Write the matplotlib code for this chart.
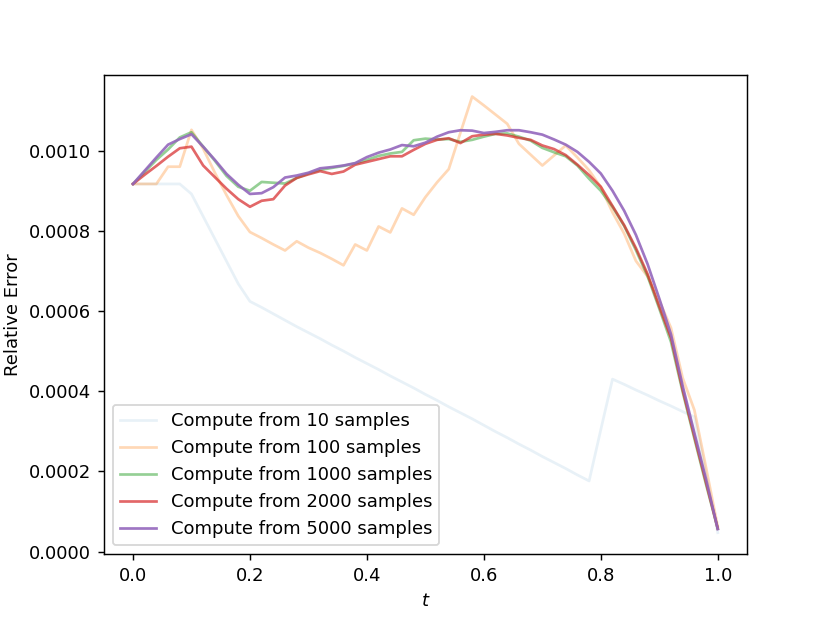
from matplotlib import pyplot as plt
import numpy as np

# time grid and relative errors (in units of 1e-4)
t = np.linspace(0, 1, 51)

err_10 = [9.17, 9.17, 9.17, 9.17, 9.17, 8.92, 8.36, 7.80, 7.24, 6.68,
          6.24, 6.09, 5.93, 5.77, 5.61, 5.46, 5.31, 5.15, 5.00, 4.84,
          4.69, 4.54, 4.38, 4.23, 4.08, 3.92, 3.77, 3.61, 3.46, 3.31,
          3.15, 2.99, 2.84, 2.68, 2.53, 2.37, 2.22, 2.07, 1.91, 1.76,
          3.04, 4.30, 4.17, 4.03, 3.90, 3.76, 3.63, 3.49, 3.36, 1.92,
          0.47]
err_100 = [9.17, 9.17, 9.17, 9.60, 9.60, 10.52, 10.05, 9.45, 8.89, 8.37,
           7.97, 7.82, 7.66, 7.51, 7.74, 7.58, 7.45, 7.30, 7.14, 7.66,
           7.51, 8.11, 7.96, 8.56, 8.40, 8.84, 9.21, 9.54, 10.45, 11.35,
           11.13, 10.90, 10.67, 10.17, 9.90, 9.63, 9.88, 10.13, 9.83, 9.51,
           9.09, 8.46, 7.93, 7.25, 6.86, 6.26, 5.58, 4.33, 3.53, 2.09,
           0.62]
err_1000 = [9.17, 9.47, 9.77, 10.03, 10.33, 10.46, 10.10, 9.75, 9.37, 9.10,
            9.00, 9.22, 9.20, 9.18, 9.32, 9.43, 9.52, 9.57, 9.62, 9.68,
            9.77, 9.87, 9.93, 9.97, 10.26, 10.30, 10.28, 10.29, 10.22, 10.27,
            10.35, 10.42, 10.43, 10.35, 10.25, 10.07, 9.96, 9.86, 9.63, 9.30,
            9.00, 8.60, 8.12, 7.52, 6.87, 6.06, 5.23, 3.98, 2.82, 1.67,
            0.57]
err_2000 = [9.17, 9.40, 9.62, 9.85, 10.06, 10.10, 9.63, 9.34, 9.05, 8.79,
            8.60, 8.75, 8.79, 9.13, 9.32, 9.41, 9.49, 9.42, 9.48, 9.65,
            9.72, 9.79, 9.86, 9.86, 10.02, 10.17, 10.27, 10.31, 10.19, 10.36,
            10.40, 10.42, 10.38, 10.32, 10.27, 10.13, 10.04, 9.89, 9.65, 9.39,
            9.10, 8.62, 8.14, 7.57, 6.92, 6.11, 5.33, 4.03, 2.87, 1.72,
            0.57]
err_5000 = [9.17, 9.50, 9.83, 10.15, 10.29, 10.41, 10.10, 9.77, 9.42, 9.15,
            8.92, 8.94, 9.09, 9.33, 9.38, 9.45, 9.56, 9.59, 9.63, 9.69,
            9.84, 9.95, 10.03, 10.14, 10.11, 10.20, 10.35, 10.46, 10.51, 10.50,
            10.44, 10.47, 10.51, 10.51, 10.46, 10.40, 10.28, 10.15, 9.97, 9.72,
            9.43, 9.00, 8.50, 7.90, 7.17, 6.31, 5.42, 4.13, 2.96, 1.80,
            0.56]

samples = [10, 100, 1000, 2000, 5000]
errors = [err_10, err_100, err_1000, err_2000, err_5000]
alphas = [0.1, 0.3, 0.5, 0.7, 0.9]

fig, ax = plt.subplots(figsize=(830 / 130, 623 / 130), dpi=130)

for n, err, a in zip(samples, errors, alphas):
    ax.plot(t, np.array(err) * 1e-4, alpha=a, label=f'Compute from {n} samples')

ax.set_xlabel('$t$')
ax.set_ylabel('Relative Error')
ax.legend(loc='lower left')

fig.savefig('out.png')
